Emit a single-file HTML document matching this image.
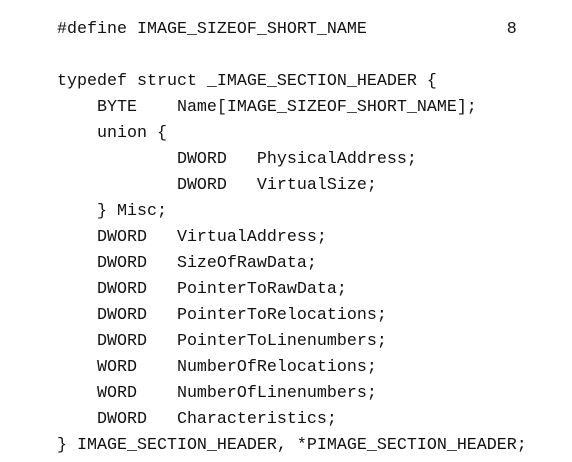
<!DOCTYPE html>
<html><head><meta charset="utf-8"><style>
html,body{margin:0;padding:0;background:#fff;width:572px;height:462px;overflow:hidden}
pre{position:absolute;left:57px;top:17px;margin:0;font-family:"Liberation Mono",monospace;font-size:16.67px;line-height:26px;color:#111}
</style></head><body>
<pre>#define IMAGE_SIZEOF_SHORT_NAME              8

typedef struct _IMAGE_SECTION_HEADER {
    BYTE    Name[IMAGE_SIZEOF_SHORT_NAME];
    union {
            DWORD   PhysicalAddress;
            DWORD   VirtualSize;
    } Misc;
    DWORD   VirtualAddress;
    DWORD   SizeOfRawData;
    DWORD   PointerToRawData;
    DWORD   PointerToRelocations;
    DWORD   PointerToLinenumbers;
    WORD    NumberOfRelocations;
    WORD    NumberOfLinenumbers;
    DWORD   Characteristics;
} IMAGE_SECTION_HEADER, *PIMAGE_SECTION_HEADER;</pre>
</body></html>
